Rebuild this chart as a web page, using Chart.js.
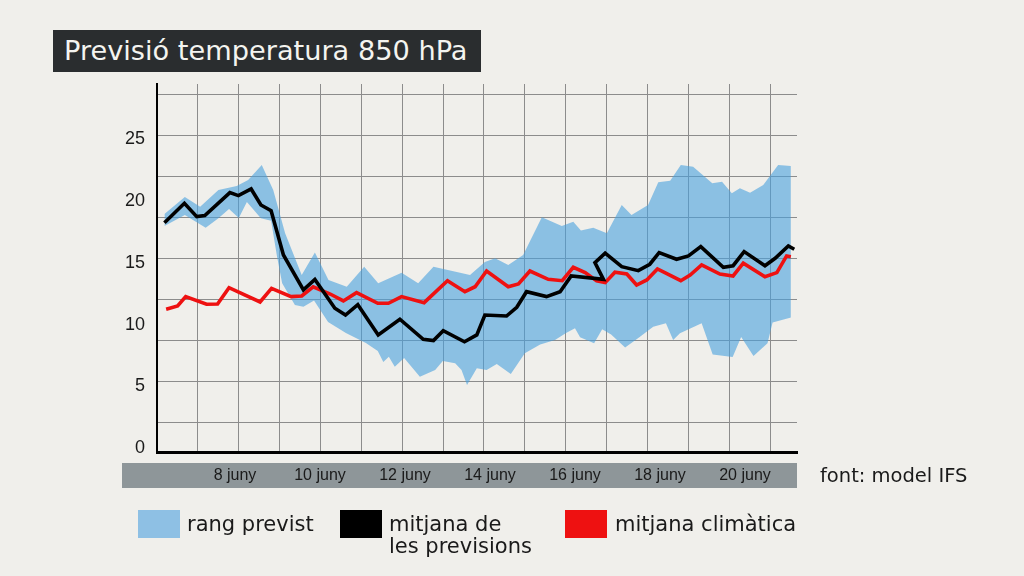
<!DOCTYPE html>
<html>
<head>
<meta charset="utf-8">
<title>Previsió temperatura 850 hPa</title>
<script src="https://cdn.jsdelivr.net/npm/chart.js"></script>
<style>
  html, body { margin: 0; padding: 0; background: #f0efeb; }
  #wrap { position: relative; width: 1024px; height: 576px; overflow: hidden; }
  #bar { position: absolute; left: 122px; top: 463px; width: 675px; height: 25px; background: #8e9699; z-index: 0; }
  #chart { position: absolute; left: 0; top: 0; z-index: 1; }
  .title {
    position: absolute; left: 53px; top: 30px; width: 428px; height: 42px;
    background: #2a2d2f; color: #f4f4f0; z-index: 2;
    font-family: "DejaVu Sans", sans-serif; font-size: 27.2px; line-height: 42px;
    padding-left: 11px; box-sizing: border-box; white-space: nowrap;
  }
  .txt { position: absolute; z-index: 2; font-family: "DejaVu Sans", sans-serif; color: #1a1a1a; white-space: nowrap; }
  .source { left: 820px; top: 465px; font-size: 19.5px; line-height: 22px; }
  .sw { position: absolute; z-index: 2; width: 42px; height: 28px; top: 510px; }
  .leg { top: 513px; font-size: 21px; line-height: 22px; }
</style>
</head>
<body>
<div id="wrap">
  <div class="title">Previsió temperatura 850 hPa</div>
  <div id="bar"></div>
  <canvas id="chart" width="1024" height="576"></canvas>
  <div class="txt source">font: model IFS</div>
  <div class="sw" style="left:138px;background:#8ec0e4"></div>
  <div class="txt leg" style="left:187px">rang previst</div>
  <div class="sw" style="left:340px;background:#000"></div>
  <div class="txt leg" style="left:389px">mitjana de<br>les previsions</div>
  <div class="sw" style="left:565px;background:#ee1111"></div>
  <div class="txt leg" style="left:615px">mitjana climàtica</div>
</div>
<script>
// dies de juny (fraccions = hora del dia) i temperatura a 850 hPa (°C)
const meanDays  = [6.34, 6.81, 7.10, 7.29, 7.88, 8.08, 8.38, 8.61, 8.85, 9.14, 9.61, 9.88, 10.35, 10.60, 10.89, 11.37, 11.88, 12.43, 12.67, 12.90, 13.40, 13.69, 13.88, 14.39, 14.63, 14.86, 15.33, 15.65, 15.91, 16.67, 16.47, 16.71, 17.10, 17.49, 17.76, 17.98, 18.39, 18.67, 18.96, 19.49, 19.72, 19.98, 20.47, 20.71, 21.02, 21.16];
const meanTemps = [18.25, 19.82, 18.74, 18.82, 20.68, 20.44, 20.98, 19.68, 19.22, 15.64, 12.81, 13.66, 11.33, 10.78, 11.62, 9.17, 10.44, 8.82, 8.71, 9.51, 8.62, 9.17, 10.78, 10.70, 11.41, 12.67, 12.27, 12.67, 13.94, 13.67, 15.02, 15.78, 14.69, 14.37, 14.89, 15.83, 15.29, 15.56, 16.31, 14.64, 14.77, 15.91, 14.77, 15.37, 16.37, 16.10];

const climDays  = [6.38, 6.65, 6.84, 7.33, 7.59, 7.86, 8.59, 8.86, 9.32, 9.57, 9.84, 10.24, 10.55, 10.86, 11.36, 11.61, 11.92, 12.45, 13.00, 13.41, 13.65, 13.92, 14.43, 14.67, 14.94, 15.37, 15.70, 15.96, 16.24, 16.51, 16.71, 16.94, 17.22, 17.45, 17.69, 17.94, 18.49, 18.71, 18.98, 19.41, 19.72, 19.96, 20.47, 20.75, 20.98, 21.08];
const climTemps = [11.25, 11.51, 12.27, 11.65, 11.67, 12.99, 11.84, 12.94, 12.27, 12.32, 13.07, 12.48, 11.92, 12.59, 11.73, 11.73, 12.27, 11.78, 13.56, 12.67, 13.07, 14.34, 13.07, 13.29, 14.34, 13.67, 13.56, 14.64, 14.21, 13.54, 13.40, 14.24, 14.10, 13.21, 13.62, 14.51, 13.56, 14.02, 14.83, 14.10, 13.94, 14.97, 13.88, 14.21, 15.56, 15.50];

const highDays  = [6.34, 6.82, 7.18, 7.61, 8.04, 8.31, 8.63, 8.90, 9.18, 9.57, 9.88, 10.20, 10.63, 11.04, 11.37, 11.92, 12.31, 12.67, 13.53, 13.88, 14.12, 14.43, 14.78, 15.22, 15.69, 15.96, 16.14, 16.43, 16.75, 17.10, 17.33, 17.72, 17.96, 18.24, 18.49, 18.78, 19.23, 19.46, 19.69, 19.88, 20.12, 20.43, 20.78, 21.08];
const highTemps = [18.96, 20.33, 19.55, 20.90, 21.22, 21.71, 22.92, 20.90, 17.39, 14.02, 15.84, 13.62, 13.07, 14.69, 13.35, 14.21, 13.35, 14.69, 14.02, 15.07, 15.37, 14.83, 15.64, 18.69, 17.99, 18.33, 17.61, 17.85, 17.39, 19.68, 18.88, 19.68, 21.52, 21.65, 22.92, 22.78, 21.44, 21.57, 20.63, 21.04, 20.68, 21.30, 22.92, 22.84];

const lowDays   = [6.34, 6.82, 7.31, 7.61, 7.86, 8.09, 8.28, 8.61, 8.85, 8.99, 9.11, 9.41, 9.61, 9.86, 10.19, 10.61, 11.08, 11.36, 11.49, 11.62, 11.76, 11.98, 12.35, 12.71, 12.89, 13.18, 13.33, 13.46, 13.69, 13.92, 14.16, 14.49, 14.82, 15.18, 15.53, 15.79, 16.00, 16.12, 16.45, 16.64, 16.85, 17.18, 17.53, 17.84, 18.14, 18.31, 18.47, 18.98, 19.24, 19.71, 19.91, 20.20, 20.53, 20.65, 21.09];
const lowTemps  = [17.99, 18.88, 17.85, 18.61, 19.36, 18.63, 19.93, 18.61, 18.41, 15.50, 13.35, 11.59, 11.46, 11.96, 10.22, 9.33, 8.52, 7.87, 6.98, 7.41, 6.60, 7.31, 5.79, 6.33, 7.06, 6.88, 6.33, 5.12, 6.47, 6.33, 6.82, 6.01, 7.69, 8.40, 8.76, 9.33, 9.71, 8.98, 8.50, 9.63, 9.21, 8.16, 9.03, 9.84, 10.11, 8.76, 9.30, 10.11, 7.59, 7.39, 9.00, 7.47, 8.50, 10.18, 10.58];

const dayTicks   = [8, 10, 12, 14, 16, 18, 20];
const dayLabels  = ["8 juny", "10 juny", "12 juny", "14 juny", "16 juny", "18 juny", "20 juny"];
const tempTicks  = [0, 5, 10, 15, 20, 25];

// quadricula decorativa, independent de les escales
const gridCols = [1, 2, 3, 4, 5, 6, 7, 8, 9, 10, 11, 12, 13, 14, 15];
const gridRows = [0, 1, 2, 3, 4, 5, 6, 7, 8];

function points (days, temps) {
  return days.map((d, i) => ({ x: d, y: temps[i] }));
}

const gridColor = "#8c8c8c";

new Chart(document.getElementById("chart"), {
  type: "line",
  data: {
    datasets: [
      {
        label: "mitjana de les previsions",
        data: points(meanDays, meanTemps),
        borderColor: "#000000",
        borderWidth: 3.6,
        pointRadius: 0,
        tension: 0,
        fill: false
      },
      {
        label: "mitjana climàtica",
        data: points(climDays, climTemps),
        borderColor: "#ee1111",
        borderWidth: 3.6,
        pointRadius: 0,
        tension: 0,
        fill: false
      },
      {
        label: "rang previst (mínim)",
        data: points(lowDays, lowTemps),
        borderWidth: 0,
        borderColor: "rgba(0,0,0,0)",
        pointRadius: 0,
        tension: 0,
        fill: false
      },
      {
        label: "rang previst",
        data: points(highDays, highTemps),
        borderWidth: 0,
        borderColor: "rgba(0,0,0,0)",
        backgroundColor: "rgba(72,160,222,0.6)",
        pointRadius: 0,
        tension: 0,
        fill: "-1"
      }
    ]
  },
  options: {
    responsive: false,
    animation: false,
    layout: { padding: { left: 0, top: 84, right: 227, bottom: 0 } },
    plugins: { legend: { display: false }, tooltip: { enabled: false } },
    scales: {
      x: {
        type: "linear",
        min: 6.165,
        max: 21.224,
        afterBuildTicks: (s) => { s.ticks = dayTicks.map(v => ({ value: v })); },
        afterFit: (s) => { s.height = 124; },
        grid: { display: false, drawTicks: false },
        border: { display: true, color: "#000", width: 3 },
        ticks: {
          padding: 14,
          maxRotation: 0,
          autoSkip: false,
          color: "#1a1a1a",
          font: { family: "Liberation Sans", size: 16 },
          callback: (v, i) => dayLabels[i]
        }
      },
      y: {
        type: "linear",
        min: -0.3,
        max: 29.47,
        afterBuildTicks: (s) => { s.ticks = tempTicks.map(v => ({ value: v })); },
        afterFit: (s) => { s.width = 157; },
        grid: { display: false, drawTicks: false },
        border: { display: true, color: "#000", width: 2 },
        ticks: {
          padding: 12,
          color: "#1a1a1a",
          font: { family: "Liberation Sans", size: 18 }
        }
      },
      gx: {
        type: "linear",
        position: "top",
        min: 0,
        max: 15.66,
        afterBuildTicks: (s) => { s.ticks = gridCols.map(v => ({ value: v })); },
        afterFit: (s) => { s.height = 0; },
        grid: { display: true, color: gridColor, lineWidth: 1, drawTicks: false },
        border: { display: false },
        ticks: { display: false }
      },
      gy: {
        type: "linear",
        position: "right",
        min: -0.733,
        max: 8.264,
        afterBuildTicks: (s) => { s.ticks = gridRows.map(v => ({ value: v })); },
        afterFit: (s) => { s.width = 0; },
        grid: { display: true, color: gridColor, lineWidth: 1, drawTicks: false },
        border: { display: false },
        ticks: { display: false }
      }
    }
  }
});
</script>
</body>
</html>
